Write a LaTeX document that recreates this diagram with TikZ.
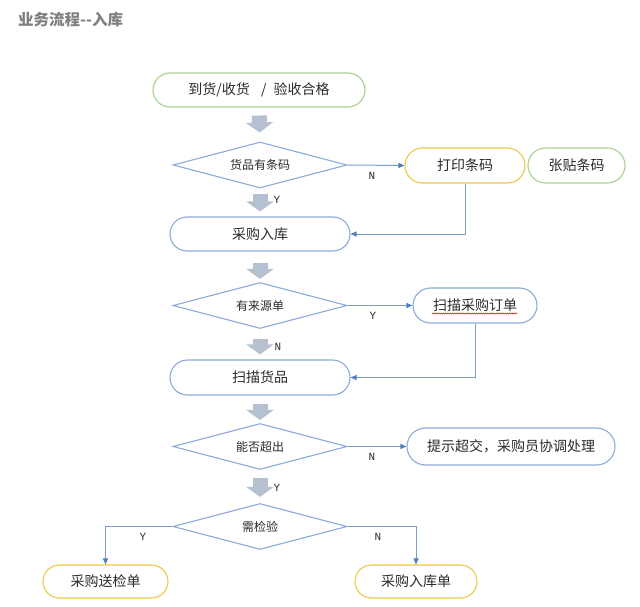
\documentclass[tikz,border=0pt]{standalone}
\usepackage{fontspec}
\setmainfont{Liberation Serif}
\newfontfamily\cjk{Noto Sans CJK SC}
\newfontfamily\labfont{Liberation Mono}
\usetikzlibrary{shapes.geometric,shapes.misc,arrows.meta,decorations.pathmorphing}
\definecolor{grn}{HTML}{A9D08E}
\definecolor{ylw}{HTML}{F2C744}
\definecolor{blu}{HTML}{8EAADB}
\definecolor{lin}{HTML}{7F9CC6}
\definecolor{tipc}{HTML}{4F81BD}
\definecolor{blk}{HTML}{B5C1D0}
\definecolor{txt}{HTML}{2B2B2B}
\definecolor{ttl}{HTML}{7F7F7F}
\tikzset{
  box/.style={rounded rectangle, draw, line width=1.1pt, text=txt,
    font=\cjk\fontsize{14}{16}\selectfont, inner sep=0pt},
  dia/.style={diamond, draw=blu, line width=1.1pt, inner sep=0pt, aspect=3.78,
    minimum width=174pt, minimum height=46pt,
    font=\cjk\fontsize{12}{14}\selectfont, text=txt},
  conn/.style={draw=lin, line width=1pt, -{Triangle[length=6pt,width=5pt,color=tipc]}},
  barr/.style={draw=blk, line width=15pt, -{Triangle[length=10pt,width=27pt]}},
  lab/.style={font=\labfont\fontsize{11}{12}\selectfont, text=txt, inner sep=0pt},
}
\begin{document}
\begin{tikzpicture}[x=1pt,y=-1pt]
\useasboundingbox[fill=white] (0,0) rectangle (640,607);
\node[anchor=west, font=\cjk\bfseries\fontsize{15.5}{17}\selectfont, text=ttl, inner sep=0pt] (title) at (18,20) {业务流程--入库};

\node[box, draw=grn, minimum width=212pt, minimum height=34pt] (n1) at (259,90) {到货/收货\hspace{0.8em}/\hspace{0.5em}验收合格};
\node[dia] (d1) at (260,165) {货品有条码};
\node[box, draw=ylw, minimum width=120pt, minimum height=35pt] (p1) at (465,165.5) {打印条码};
\node[box, draw=grn, minimum width=97pt, minimum height=35pt] (p2) at (576.5,165.5) {张贴条码};
\node[box, draw=blu, minimum width=180pt, minimum height=34pt] (n2) at (260,234) {采购入库};
\node[dia] (d2) at (260,305.5) {有来源单};
\node[box, draw=blu, minimum width=124pt, minimum height=35pt] (s1) at (475,305.5) {扫描采购订单};
\node[box, draw=blu, minimum width=180pt, minimum height=35pt] (n3) at (260,377.5) {扫描货品};
\node[dia] (d3) at (260,446.5) {能否超出};
\node[box, draw=blu, minimum width=208pt, minimum height=37pt] (t1) at (511,446.5) {提示超交，采购员协调处理};
\node[dia] (d4) at (260,526.5) {需检验};
\node[box, draw=ylw, minimum width=125pt, minimum height=33pt] (b1) at (105.5,581.5) {采购送检单};
\node[box, draw=ylw, minimum width=122pt, minimum height=33pt] (b2) at (416,581.5) {采购入库单};

% spell-check underline
\draw[red!85!black, line width=0.5pt, decorate, decoration={snake, amplitude=0.6pt, segment length=2.2pt}]
  ([xshift=-43pt, yshift=-8pt]s1.center) -- ([xshift=42pt, yshift=-8pt]s1.center);

% block arrows
\draw[barr, shorten <=8pt, shorten >=9pt] (n1.south) -- (d1.north);
\draw[barr, shorten <=5pt, shorten >=5pt] (d1.south) -- (n2.north);
\draw[barr, shorten <=11pt, shorten >=3pt] (n2.south) -- (d2.north);
\draw[barr, shorten <=10pt, shorten >=5pt] (d2.south) -- (n3.north);
\draw[barr, shorten <=8pt, shorten >=3pt] (n3.south) -- (d3.north);
\draw[barr, shorten <=8pt, shorten >=6pt] (d3.south) -- (d4.north);

% connectors
\draw[conn] (d1.east) -- (p1.west);
\draw[conn] (p1.south) |- (n2.east);
\draw[conn] (d2.east) -- (s1.west);
\draw[conn] (s1.south) |- (n3.east);
\draw[conn] (d3.east) -- (t1.west);
\draw[conn] (d4.west) -| (b1.north);
\draw[conn] (d4.east) -| (b2.north);

% labels
\node[lab] (l1) at (372,176) {N};
\node[lab] (l2) at (277,200) {Y};
\node[lab] (l3) at (373,316) {Y};
\node[lab] (l4) at (278,347) {N};
\node[lab] (l5) at (372,457) {N};
\node[lab] (l6) at (277,488) {Y};
\node[lab] (l7) at (143,537) {Y};
\node[lab] (l8) at (378,537) {N};
\end{tikzpicture}
\end{document}
